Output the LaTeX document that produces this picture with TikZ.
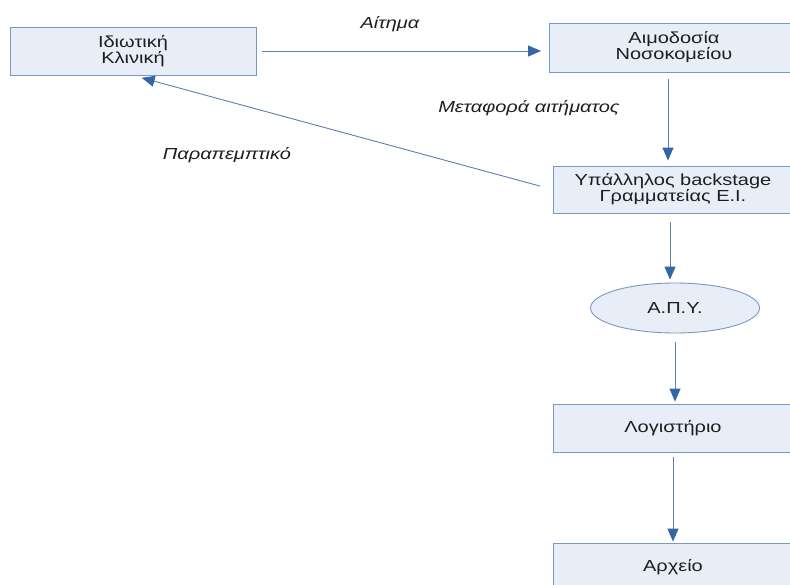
\documentclass[tikz,border=0pt]{standalone}
\usepackage{fontspec}
\setmainfont{Liberation Sans}[FakeStretch=1.25]
\usetikzlibrary{arrows.meta,shapes.geometric}
\definecolor{boxfill}{HTML}{E8EEF8}
\definecolor{boxline}{HTML}{7A98C4}
\definecolor{arrline}{HTML}{5D7FB3}
\definecolor{arrhead}{HTML}{3465A4}
\definecolor{txt}{HTML}{1E1E1E}
\tikzset{
  box/.style={draw=boxline, fill=boxfill, line width=0.9pt, minimum width=250pt, minimum height=48pt, inner sep=0pt, align=center, font=\fontsize{16}{16}\selectfont, text=txt},
  oval/.style={ellipse, draw=boxline, fill=boxfill, line width=0.9pt, minimum width=169pt, minimum height=50pt, inner sep=0pt, font=\fontsize{16}{16}\selectfont, text=txt},
  flow/.style={draw=arrline, line width=0.9pt, -{Triangle[length=13pt,width=11pt,color=arrhead]}},
  lbl/.style={font=\fontsize{16}{16}\selectfont\itshape, text=txt, inner sep=0pt}
}
\begin{document}
\begin{tikzpicture}[x=1pt,y=-1pt]
\useasboundingbox (0,0) rectangle (790,584);
\clip (0,0) rectangle (790,584);
\node[box, minimum width=246pt] (klin) at (133,51) {Ιδιωτική\\Κλινική};
\node[box, minimum height=49pt] (aimo) at (674,47.5) {Αιμοδοσία\\Νοσοκομείου};
\node[box, minimum height=47pt] (ypal) at (678,189.5) {\hspace*{-10pt}Υπάλληλος backstage\\\hspace*{-10pt}Γραμματείας Ε.Ι.};
\node[oval] (apy) at (675,308) {Α.Π.Υ.};
\node[box] (logi) at (678,428) {\hspace*{-10pt}Λογιστήριο};
\node[box] (arx) at (678,567) {\hspace*{-10pt}Αρχείο};
\coordinate (a1) at (262,51);
\coordinate (a2) at (541,51);
\draw[flow] (a1) -- (a2);
\draw[flow, shorten <=7pt, shorten >=5pt] ([xshift=-6pt]aimo.south) -- ([xshift=-6pt]aimo.south |- ypal.north);
\draw[flow, shorten <=13pt, shorten >=9pt] (ypal.west) -- (klin.south);
\draw[flow, shorten <=9pt, shorten >=3pt] ([xshift=-8pt]ypal.south) -- ([xshift=-8pt]ypal.south |- apy.north);
\draw[flow, shorten <=9pt, shorten >=2pt] (apy.south) -- (apy.south |- logi.north);
\draw[flow, shorten <=5pt, shorten >=1pt] ([xshift=-5pt]logi.south) -- ([xshift=-5pt]arx.north);
\node[lbl] (l1) at (390,24) {Αίτημα};
\node[lbl] (l2) at (529,108) {Μεταφορά αιτήματος};
\node[lbl] (l3) at (227,155) {Παραπεμπτικό};
\end{tikzpicture}
\end{document}
